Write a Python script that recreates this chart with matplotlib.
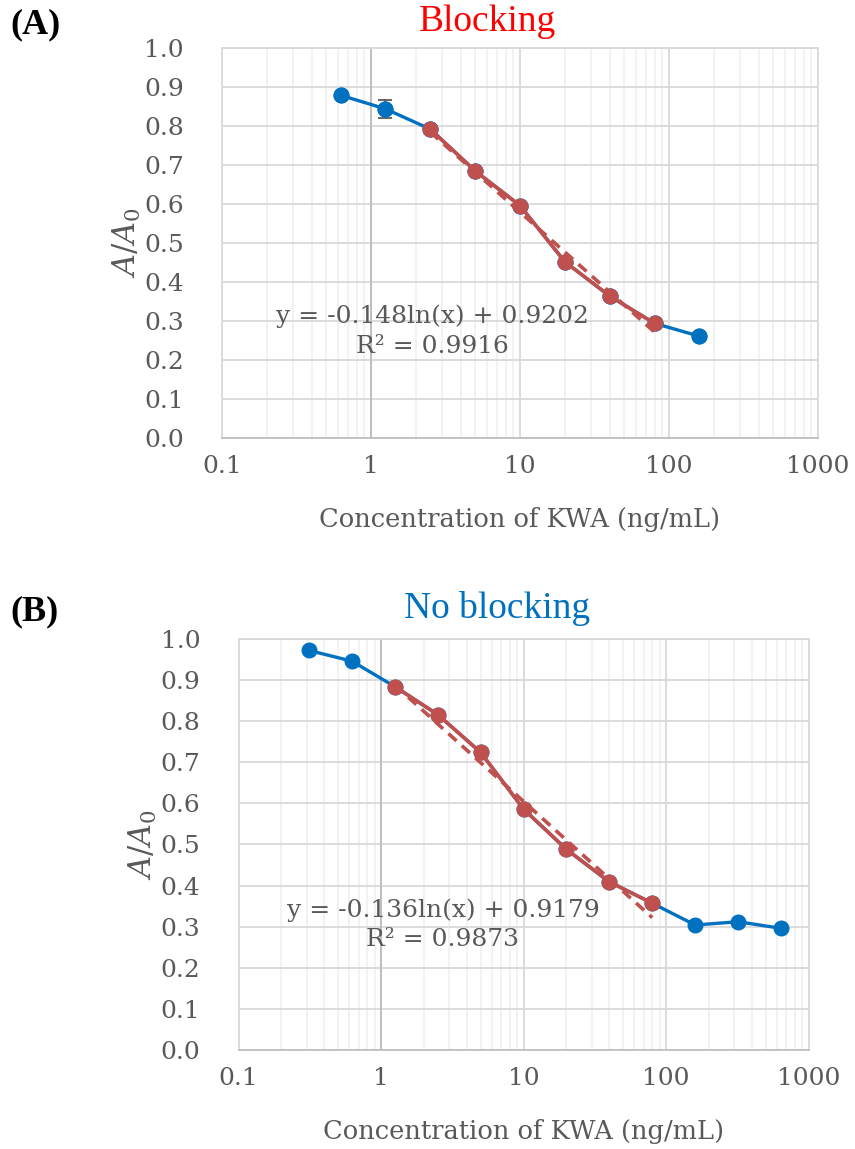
import numpy as np
from matplotlib import pyplot as plt
from matplotlib.ticker import FixedLocator, NullFormatter

# Data
conc_a = [0.625, 1.25, 2.5, 5, 10, 20, 40, 80, 160]
ratio_a = [0.879, 0.844, 0.792, 0.685, 0.596, 0.452, 0.364, 0.294, 0.261]
err_a = [0.0, 0.023, 0.0, 0.0, 0.0, 0.0, 0.0, 0.0, 0.0]
fit_conc_a = [2.5, 5, 10, 20, 40, 80]
fit_ratio_a = [0.792, 0.685, 0.596, 0.452, 0.364, 0.294]
slope_a, icpt_a = -0.148, 0.9202

conc_b = [0.3125, 0.625, 1.25, 2.5, 5, 10, 20, 40, 80, 160, 320, 640]
ratio_b = [0.972, 0.946, 0.884, 0.816, 0.724, 0.586, 0.488, 0.409, 0.357, 0.304, 0.312, 0.296]
fit_conc_b = [1.25, 2.5, 5, 10, 20, 40, 80]
fit_ratio_b = [0.884, 0.816, 0.724, 0.586, 0.488, 0.409, 0.357]
slope_b, icpt_b = -0.136, 0.9179

x_ticks = [0.1, 1, 10, 100, 1000]
x_ticklabels = ['0.1', '1', '10', '100', '1000']
y_ticks = [0.0, 0.1, 0.2, 0.3, 0.4, 0.5, 0.6, 0.7, 0.8, 0.9, 1.0]

BLUE = '#0070C0'
RED = '#C0504D'
GRAY = '#595959'

plt.rcParams['font.family'] = 'DejaVu Serif'
plt.rcParams['mathtext.fontset'] = 'dejavuserif'

fig = plt.figure(figsize=(8.55, 11.49), dpi=100)
ax1 = fig.add_axes([0.2596, 0.6188, 0.6971, 0.3394])
ax2 = fig.add_axes([0.2790, 0.0862, 0.6667, 0.3577])


def style_axis(ax):
    ax.set_xscale('log')
    ax.set_xlim(0.1, 1000)
    ax.set_ylim(0, 1.0)
    ax.xaxis.set_major_locator(FixedLocator(x_ticks))
    ax.set_xticklabels(x_ticklabels)
    minors = [m * 10.0 ** e for e in range(-1, 3) for m in range(2, 10)]
    ax.xaxis.set_minor_locator(FixedLocator(minors))
    ax.xaxis.set_minor_formatter(NullFormatter())
    ax.set_yticks(y_ticks)
    ax.set_yticklabels([f'{v:.1f}' for v in y_ticks])
    ax.grid(which='minor', axis='x', color='#F0F0F0', lw=1.2)
    ax.grid(which='major', color='#D9D9D9', lw=1.3)
    ax.axvline(1, color='#BFBFBF', lw=1.4, zorder=1)
    for s in ax.spines.values():
        s.set_color('#D9D9D9')
        s.set_linewidth(1.3)
    ax.spines['bottom'].set_color('#BFBFBF')
    ax.tick_params(which='both', length=0, labelsize=18, colors=GRAY)
    ax.tick_params(axis='x', pad=12)
    ax.tick_params(axis='y', pad=27.5)
    ax.set_axisbelow(True)
    ax.set_xlabel('Concentration of KWA (ng/mL)', fontsize=18.5, color=GRAY, labelpad=21)
    ax.set_ylabel(r'$\mathit{A/A_0}$', fontsize=22, color=GRAY, labelpad=1)


def draw(ax, conc, ratio, fit_conc, fit_ratio, slope, icpt, err=None):
    ax.plot(conc, ratio, color=BLUE, lw=2.4, marker='o', ms=10.5, zorder=3)
    if err is not None:
        ax.errorbar(conc, ratio, yerr=err, fmt='none', ecolor=GRAY, elinewidth=1.3,
                    capsize=5, capthick=1.3, zorder=4)
        ax.plot(conc, ratio, color=BLUE, lw=0, marker='o', ms=10.5, zorder=5)
    xs = np.array(fit_conc, dtype=float)
    ax.plot(xs, slope * np.log(xs) + icpt, color=RED, lw=2.6, ls=(0, (3, 2)), zorder=6)
    ax.plot(fit_conc, fit_ratio, color=RED, lw=2.6, marker='o', ms=10.5, zorder=7)


style_axis(ax1)
style_axis(ax2)
draw(ax1, conc_a, ratio_a, fit_conc_a, fit_ratio_a, slope_a, icpt_a, err_a)
draw(ax2, conc_b, ratio_b, fit_conc_b, fit_ratio_b, slope_b, icpt_b)

ax1.text(2.57, 0.274, f'y = -{abs(slope_a)}ln(x) + {icpt_a}\nR² = 0.9916',
         ha='center', va='center', fontsize=18, color=GRAY, linespacing=1.35, zorder=8)
ax2.text(2.72, 0.304, f'y = -{abs(slope_b)}ln(x) + {icpt_b}\nR² = 0.9873',
         ha='center', va='center', fontsize=18, color=GRAY, linespacing=1.35, zorder=8)

fig.text(487 / 855, 1 - 22 / 1149, 'Blocking', ha='center', va='center',
         fontsize=27, color='#FF0000', family='Liberation Serif')
fig.text(497 / 855, 1 - 608 / 1149, 'No blocking', ha='center', va='center',
         fontsize=27, color=BLUE, family='Liberation Serif')
fig.text(10 / 855, 1 - 25 / 1149, '(A)', ha='left', va='center',
         fontsize=26, fontweight='bold', family='Liberation Serif')
fig.text(10 / 855, 1 - 612 / 1149, '(B)', ha='left', va='center',
         fontsize=26, fontweight='bold', family='Liberation Serif')

plt.savefig('out.png', dpi=100)
